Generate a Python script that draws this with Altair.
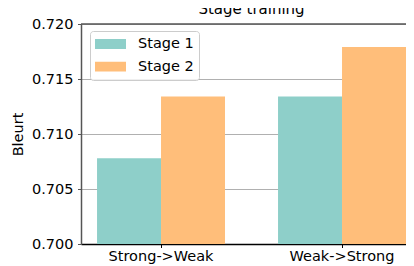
import altair as alt
import pandas as pd

categories = ["Strong->Weak", "Weak->Strong"]
series = ["Stage 1", "Stage 2"]
stage1 = [0.7078, 0.7134]
stage2 = [0.7134, 0.7179]
colors = ["#8ECFC9", "#FFBE7A"]
y_ticks = [0.700, 0.705, 0.710, 0.715, 0.720]
y_min, y_max = 0.700, 0.720

rows = []
for s, vals in zip(series, [stage1, stage2]):
    for c, v in zip(categories, vals):
        rows.append({"category": c, "stage": s, "value": v})
df = pd.DataFrame(rows)

FONT = "DejaVu Sans"
W, H = 325, 220

bars = alt.Chart(df).mark_bar(strokeWidth=0).encode(
    x=alt.X("category:N", sort=categories,
            scale=alt.Scale(paddingInner=0.293, paddingOuter=0.0443, align=1),
            axis=alt.Axis(title=None, labelAngle=0, labelFontSize=14.5, labelColor="black",
                          labelFont=FONT, tickSize=3.5, tickColor="black", tickWidth=1,
                          domainColor="black", domainWidth=1.5, labelPadding=2, grid=False)),
    xOffset=alt.XOffset("stage:N", sort=series, scale=alt.Scale(paddingInner=0, paddingOuter=0)),
    y=alt.Y("value:Q", scale=alt.Scale(domain=[y_min, y_max], nice=False, zero=False),
            axis=alt.Axis(title="Bleurt", values=y_ticks, format=".3f",
                          titleFontSize=14.5, titleFontWeight="normal", titleColor="black",
                          titleFont=FONT, titlePadding=6,
                          labelFontSize=14.5, labelColor="black", labelFont=FONT,
                          labelPadding=4.5, tickSize=3.5, tickColor="#555555", tickWidth=1,
                          domainColor="#555555", domainWidth=1.5,
                          grid=True, gridColor="#b0b0b0", gridWidth=1)),
    y2=alt.datum(y_min),
    color=alt.Color("stage:N", sort=series,
                    scale=alt.Scale(domain=series, range=colors),
                    legend=alt.Legend(orient="none", legendX=9, legendY=7, title=None,
                                      symbolType="M-1,-0.32L1,-0.32L1,0.32L-1,0.32Z",
                                      symbolSize=961, symbolStrokeWidth=0, symbolOpacity=1,
                                      labelFontSize=14.5, labelFont=FONT, labelColor="black",
                                      labelOffset=12, padding=5, rowPadding=6.6, clipHeight=16,
                                      fillColor="rgba(255,255,255,0.8)", strokeColor="#cccccc",
                                      cornerRadius=3)),
)

top_spine = alt.Chart(alt.Data(values=[{}])).mark_rule(color="#555555", strokeWidth=1.5).encode(
    x=alt.value(0), x2=alt.value(W), y=alt.value(0)
)

chart = alt.layer(bars, top_spine).properties(
    width=W, height=H,
    title=alt.TitleParams("Stage training", fontSize=15, fontWeight="normal", font=FONT,
                          color="black", offset=-1, dx=8),
    padding={"left": 73, "top": 16, "right": 0, "bottom": 22},
    autosize=alt.AutoSizeParams(type="none"),
).configure_view(stroke=None).configure(font=FONT)

chart.save("out.html", embed_options={"renderer": "svg", "actions": False})
